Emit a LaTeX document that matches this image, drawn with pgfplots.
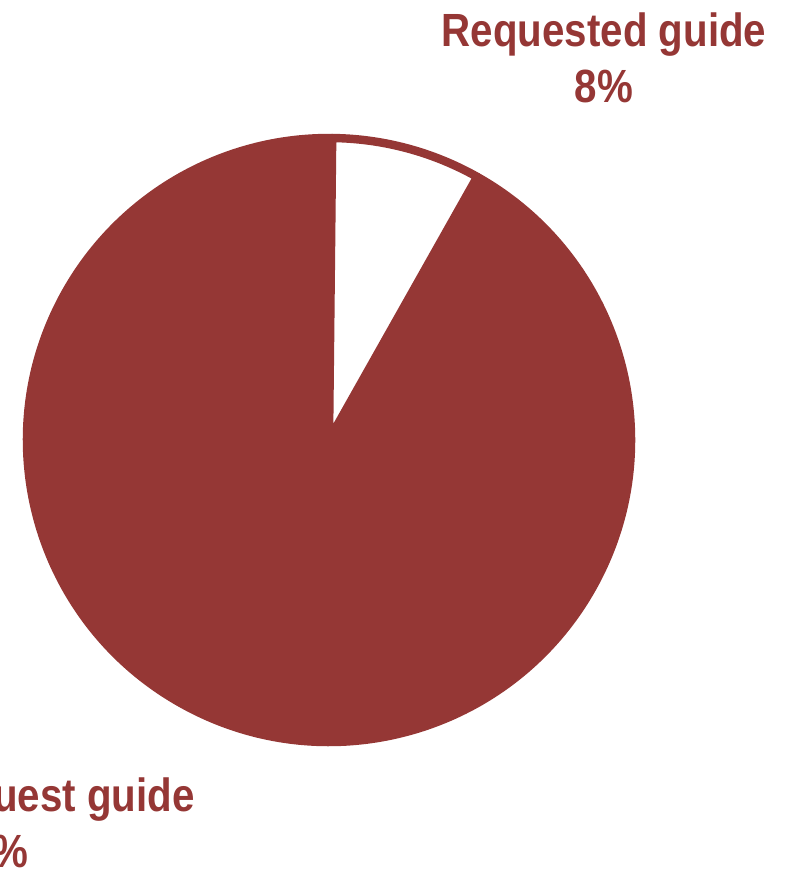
\documentclass[border=0pt]{standalone}
\usepackage{fontspec}
\setmainfont{Liberation Sans}[FakeStretch=0.865]
\usepackage{pgfplots}
\usepackage{pgfplotstable}
\pgfplotsset{compat=1.18}
\definecolor{pieRed}{RGB}{149,55,53}
\pgfplotstableread{
label value
Requested 8
NotRequested 92
}\piedata
\begin{document}
\begin{tikzpicture}
\pgfplotstablegetelem{0}{value}\of\piedata \let\vA\pgfplotsretval
\pgfplotstablegetelem{1}{value}\of\piedata \let\vB\pgfplotsretval
\pgfmathsetmacro{\startA}{89.4}
\pgfmathsetmacro{\endA}{\startA-3.6*\vA}
\pgfmathsetmacro{\endB}{\endA-3.6*\vB}
\begin{axis}[
  anchor=origin, at={(0,0)},
  x=1cm, y=1cm, scale only axis,
  xmin=0, xmax=16, ymin=0, ymax=17.52,
  hide axis, clip=true,
]
% 92% slice (red)
\filldraw[fill=pieRed, draw=pieRed, line width=4.8pt, line join=round]
  (axis cs:6.58,8.72) -- ++(\endA:6.04) arc[start angle=\endA, end angle=\endB, radius=6.04] -- cycle;
% 8% slice (white with red border)
\filldraw[fill=white, draw=pieRed, line width=4.8pt, line join=round]
  (axis cs:6.58,8.72) -- ++(\startA:6.04) arc[start angle=\startA, end angle=\endA, radius=6.04] -- cycle;
\node[anchor=north, align=center, inner sep=0pt, text=pieRed,
      font=\fontsize{26.5}{32.3}\selectfont\bfseries]
  at (axis cs:12.08,17.28) {Requested guide\\\vA\%};
\node[anchor=north east, align=center, inner sep=0pt, text=pieRed,
      font=\fontsize{26.5}{32.3}\selectfont\bfseries]
  at (axis cs:3.9,1.98) {Did not request guide\\\vB\%};
\end{axis}
\pgfresetboundingbox
\useasboundingbox (0,0) rectangle (16,17.52);
\end{tikzpicture}
\end{document}
